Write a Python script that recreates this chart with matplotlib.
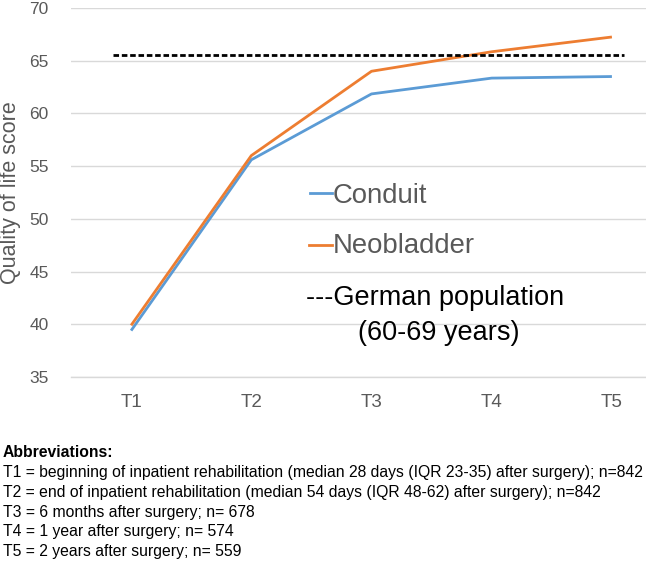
import matplotlib
matplotlib.use("Agg")
import matplotlib.pyplot as plt
from matplotlib.lines import Line2D

plt.rcParams['font.family'] = ['Liberation Sans', 'DejaVu Sans']

categories = ['T1', 'T2', 'T3', 'T4', 'T5']
conduit = [39.4, 55.6, 61.85, 63.35, 63.5]
neobladder = [39.9, 56.0, 64.0, 65.85, 67.25]
german_population = 65.57
yticks = [35, 40, 45, 50, 55, 60, 65, 70]

abbrev_title = 'Abbreviations:'
abbrev_lines = [
    'T1 = beginning of inpatient rehabilitation (median 28 days (IQR 23-35) after surgery); n=842',
    'T2 = end of inpatient rehabilitation (median 54 days (IQR 48-62) after surgery); n=842',
    'T3 = 6 months after surgery; n= 678',
    'T4 = 1 year after surgery; n= 574',
    'T5 = 2 years after surgery; n= 559',
]

W, H = 646, 561
fig = plt.figure(figsize=(W / 100, H / 100), dpi=100)


def fx(x):
    return x / W


def fy(y):
    return 1 - y / H


left, right, top, bottom = 71, 672, 8, 377
ax = fig.add_axes([fx(left), fy(bottom), (right - left) / W, (bottom - top) / H])

x = list(range(len(categories)))
blue = '#5b9bd5'
orange = '#ed7d31'
gray = '#595959'

ax.plot(x, conduit, color=blue, lw=2.0, solid_capstyle='butt', zorder=3)
ax.plot(x, neobladder, color=orange, lw=2.0, solid_capstyle='butt', zorder=3)
ax.plot([-0.15, 4.1], [german_population, german_population], color='black',
        lw=2.0, linestyle=(0, (2.0, 1.0)), zorder=4)

ax.set_xlim(-0.5, 4.5)
ax.set_ylim(35, 70)
ax.set_yticks(yticks)
ax.set_xticks(x)
ax.set_xticklabels(categories)
ax.grid(axis='y', color='#d9d9d9', lw=1.0, zorder=0)
ax.set_axisbelow(True)
for s in ['top', 'right', 'left']:
    ax.spines[s].set_visible(False)
ax.spines['bottom'].set_color('#d9d9d9')
ax.spines['bottom'].set_linewidth(1.0)
ax.tick_params(axis='both', length=0, colors=gray)
ax.tick_params(axis='y', pad=16, labelsize=12.5)
ax.tick_params(axis='x', pad=12, labelsize=13.5)

fig.text(fx(11), fy(193), 'Quality of life score', rotation=90, ha='center',
         va='center', fontsize=15.5, color=gray)

# legend-like annotations
fig.add_artist(Line2D([fx(310), fx(332)], [fy(193), fy(193)], color=blue, lw=2))
fig.text(fx(333), fy(203), 'Conduit', fontsize=19.8, color=gray, va='baseline', ha='left')
fig.add_artist(Line2D([fx(309), fx(332)], [fy(245), fy(245)], color=orange, lw=2))
fig.text(fx(333), fy(253), 'Neobladder', fontsize=19.8, color=gray, va='baseline', ha='left')
fig.text(fx(306), fy(305), '---German population', fontsize=19.5, color='black',
         va='baseline', ha='left')
fig.text(fx(439), fy(340), '(60-69 years)', fontsize=19.5, color='black',
         va='baseline', ha='center')

# abbreviations
fig.text(fx(3), fy(457), abbrev_title, fontsize=11.3, fontweight='bold',
         color='black', va='baseline', ha='left')
for i, line in enumerate(abbrev_lines):
    fig.text(fx(3), fy(477 + i * 19.8), line, fontsize=11.3, color='black',
             va='baseline', ha='left')

fig.savefig('out.png', dpi=100)
